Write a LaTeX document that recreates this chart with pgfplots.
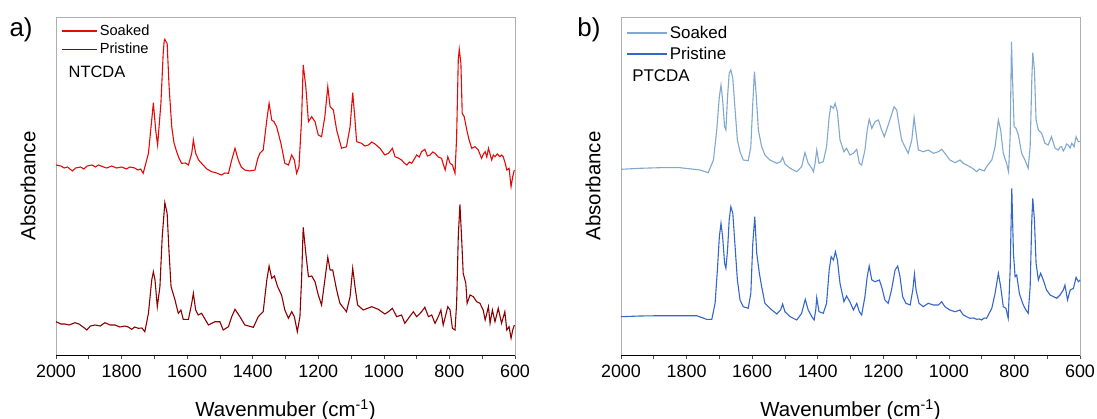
\documentclass[border=0pt]{standalone}
\usepackage{fontspec}
\setmainfont{Liberation Sans}
\usepackage{pgfplots}
\pgfplotsset{compat=1.18}
\definecolor{ntsoak}{RGB}{228,10,10}
\definecolor{ntprist}{RGB}{140,0,0}
\definecolor{ptsoak}{RGB}{128,168,208}
\definecolor{ptprist}{RGB}{52,102,204}
\definecolor{boxgray}{RGB}{175,175,175}

\pgfplotsset{
  spec/.style={
    scale only axis, width=459bp, height=338bp,
    x dir=reverse, xmin=600, xmax=2000, ymin=0, ymax=338,
    xtick={600,800,...,2000}, minor xtick={700,900,...,1900},
    ytick=\empty, xtick pos=bottom, tick align=outside,
    major tick length=4bp, minor tick length=4bp,
    every tick/.style={black!70, line width=0.6bp},
    axis line style={boxgray, line width=0.8bp},
    /pgf/number format/assume math mode=true,
    /pgf/number format/1000 sep={},
    xticklabel style={font=\fontsize{18}{18}\selectfont, yshift=-2bp},
    xlabel style={font=\fontsize{20.5}{20.5}\selectfont, at={([yshift=-55bp]axis description cs:0.5,0)}, anchor=center},
    ylabel style={font=\fontsize{20.5}{20.5}\selectfont, at={([xshift=-28bp]axis description cs:0,0.5)}, anchor=center},
    ylabel={Absorbance},
    clip=false,
    legend cell align=left,
  },
}

\begin{document}
\begin{tikzpicture}
\begin{axis}[spec,
  xlabel={Wavenmuber (cm\textsuperscript{-1})},
  legend style={at={([xshift=5bp,yshift=-6bp]axis description cs:0,1)}, anchor=north west, draw=none, fill=none, inner sep=0pt, font=\fontsize{14.7}{15}\selectfont, row sep=2bp},
  legend image code/.code={\draw[#1, line width=1.6bp] (0bp,0bp) -- (35bp,0bp);},
]
\addplot[ntsoak, line width=1.1bp] coordinates {
(2000,190)(1985,189)(1975,187)(1965,188)(1950,184)(1940,187)(1925,188)(1915,186)(1905,189)(1890,190)(1880,188)(1870,190)(1855,188)
(1845,187)(1830,189)(1815,187)(1800,188)(1785,186)(1775,188)(1760,187)(1750,185)(1742,186)(1734,181.7)
(1718,201.7)(1708,235)(1703,252.3)(1696,225)(1690,210)(1680,251.7)(1673,301.7)(1670,314)(1668,315.7)(1664,313)(1661,311.7)(1655,268.3)(1647,228.3)
(1640,212)(1632,203.3)(1625,197)(1617,191.7)(1605,192)(1596,190)(1586,201.7)(1581,215)(1574,201.7)(1565,195)(1556,191.7)(1540,186)(1525,183.3)
(1510,182)(1495,180)(1485,182)(1474,181.7)(1464,195)
(1454,206.7)(1444,195)(1435,188)(1424,185)(1410,184)(1393,185)(1385,196)(1378,201.7)(1368,205)(1357,235)(1350,251.7)(1342,235)(1335,233.3)(1327,228.3)
(1314,211.7)(1302,191.7)(1291,190)(1281,200)(1273,195)(1266,181.7)(1259,188.3)(1251,235)(1246,290)(1238,268.3)(1230,233.3)
(1220,238.3)(1210,233.3)(1200,220)(1190,218.3)(1180,238.3)(1171,268.3)(1164,248.3)(1154,245)(1144,225)(1129,206.7)(1114,208.3)
(1103,228.3)(1095,262.3)(1088,235)(1083,213.3)(1068,211.7)(1058,209)(1047,210)(1037,213)(1027,211)(1012,206.7)(997,200)(986,201.7)(974,206.7)
(966,198.3)(956,197)(946,195)(938,192)(930,190)(922,193)(915,191.7)(907,196)(900,200)(892,198)(885,203.3)(875,205.7)(867,199)(859,200)(851,203)(844,201.7)(834,198)(824,196.7)(818,190)(813,185)(805,198.3)
(798,191.7)(791,190)(783,181.7)(778,218.3)(773,295)(770,305.7)(765,291.7)(761,241.7)(755,238.3)(747,225)(740,215)(732,206.7)
(722,208.3)(712,205)(702,196.7)(696,201)(691,203.3)(686,198)(681,206.7)(671,195)(666,200)(661,198.3)(654,201)(646,198.3)(641,200)(636,198.3)(630,192)(625,185)(618,186.7)(612,168.3)
(607,178.3)(602,185)
};
\addlegendentry{Soaked}
\addplot[ntprist, line width=1.1bp] coordinates {
(2000,33.3)(1985,31)(1973,31.0)(1960,30)(1942,32.3)(1930,31)(1912,26.7)(1906,25.0)(1895,29)(1881,30.0)(1865,29)(1851,32.3)(1835,30)(1820,30.0)(1805,28)(1790,29.0)(1780,28)(1769,25.7)(1760,28)(1749,26.7)
(1738,27)(1729,23.3)(1718,41.7)(1708,75.0)(1703,83.3)(1698,75.0)(1691,48.3)(1683,68.3)(1676,118.3)(1668,152.3)(1661,141.7)(1655,101.7)
(1649,68.3)(1637,55.0)(1627,41.7)(1619,45.0)(1612,35.7)(1596,35.7)(1586,51.7)(1581,61.7)(1574,45.0)(1566,40.0)(1556,41.7)
(1535,30.0)(1515,33.3)(1500,33.3)(1490,25.0)(1474,28.3)(1464,38.3)(1454,45.7)(1439,38.3)(1424,30.0)(1398,27.7)(1383,38.3)
(1368,43.3)(1357,75.0)(1350,89.0)(1342,76.7)(1334,79.0)(1324,68.3)(1312,60.0)(1302,45.0)(1291,36.7)(1281,43.3)(1273,38.3)
(1264,23.3)(1256,38.3)(1251,75.0)(1246,127.7)(1238,101.7)(1230,78.3)(1220,79.0)(1210,73.3)(1200,60.0)(1190,50.0)(1180,75.0)
(1171,97.7)(1164,85.0)(1156,85.0)(1144,65.0)(1134,51.7)(1114,43.3)(1103,58.3)(1095,86.7)(1088,68.3)(1080,50.0)(1063,45.0)
(1037,48.3)(1017,45.7)(997,41.0)(986,43.3)(974,46.7)(961,38.3)(946,40.0)(936,31.7)(925,36.7)(910,43.3)(900,38.3)(885,43.3)
(875,47.7)(864,38.3)(854,40.0)(844,31.7)(834,38.3)(826,45.0)(819,30.0)(805,48.3)(798,45.0)(791,26.7)(783,25.0)(778,51.7)
(773,118.3)(768,150.7)(763,118.3)(758,81.7)(750,71.7)(746,51.7)(737,60.0)(727,58.3)(717,53.3)(707,51.7)(697,45.0)(691,35.0)
(681,48.3)(676,31.7)(669,45.0)(661,33.3)(651,46.7)(641,31.7)(631,43.3)(625,25.0)(618,28.3)(612,16.7)(607,25.0)(602,30.0)
};
\addlegendentry{Pristine}
\draw[black, line width=0.8bp] (rel axis cs:0,0) -- (rel axis cs:1,0);
\node[anchor=west, font=\fontsize{16.5}{17}\selectfont] at (axis description cs:0.02,0.837) {NTCDA};
\node[font=\fontsize{26}{26}\selectfont] at (axis description cs:-0.076,0.962) {a)};
\end{axis}

\begin{axis}[spec, xshift=565bp,
  xlabel={Wavenumber (cm\textsuperscript{-1})},
  legend style={at={([xshift=5bp,yshift=-7bp]axis description cs:0,1)}, anchor=north west, draw=none, fill=none, inner sep=0pt, font=\fontsize{17}{17}\selectfont, row sep=3bp},
  legend image code/.code={\draw[#1, line width=1.6bp] (0bp,0bp) -- (40bp,0bp);},
]
\addplot[ptsoak, line width=1.1bp] coordinates {
(2000,185.7)(1942,186.7)(1881,187.3)(1820,187.3)(1759,185)(1734,182.3)(1718,195)(1708,225)(1700,258.3)(1695,270)(1690,255)
(1684,228.3)(1680,225)(1675,258.3)(1670,281.7)(1665,285)(1659,276.7)(1652,245)(1645,215)(1637,203.3)(1627,195)(1612,194.3)
(1604,208.3)(1598,251.7)(1593,283.3)(1588,261.7)(1581,225)(1571,208.3)(1561,200)(1546,195)(1525,191.7)(1513,193.3)(1507,197.7)
(1500,191)(1484,186.7)(1464,183.3)(1449,188.3)(1439,202.3)(1429,191.7)(1418,186.7)(1413,183.3)(1408,191.7)(1403,205)(1396,191.7)
(1383,193.3)(1373,208.3)(1365,238.3)(1360,249)(1352,246.7)(1347,251.7)(1340,243.3)(1332,215)(1320,203.3)(1312,206.7)(1302,200)
(1291,201.7)(1281,205.7)(1273,191.7)(1266,190)(1256,205)(1249,225)(1243,235.7)(1235,226.7)(1225,233.3)(1215,235)(1205,225)
(1197,218.3)(1190,225)(1180,235)(1167,248.3)(1159,245)(1151,228.3)(1144,215)(1134,208.3)(1124,201.7)(1113,215)(1106,237.7)
(1100,221.7)(1093,205)(1078,203.3)(1063,205)(1047,201.7)(1032,203.3)(1022,205.7)(1012,201.7)(997,195)(981,192.3)(966,195)
(956,191.7)(936,188.3)(925,186)(915,183.3)(907,186)(900,185)(892,184)(885,188.3)(869,195)(859,208.3)(849,235)(842,225)(834,201.7)(824,191.7)(818,183.3)
(813,218.3)(809,313.3)(805,268.3)(801,228.3)(795,226.7)(788,220)(778,201.7)(768,195)(758,186.7)(752,208.3)(747,275)(744,302.3)
(739,285)(734,235)(727,225)(717,221.7)(707,211.7)(697,210)(687,218.3)(676,206.7)(666,205)(661,208)(656,208.3)(651,204)(646,206.7)(641,211)(636,210)
(630,207)(625,211.7)(618,208.3)(612,218.3)(605,213.3)(600,213.3)
};
\addlegendentry{Soaked}
\addplot[ptprist, line width=1.1bp] coordinates {
(2000,38.3)(1942,39)(1881,39.3)(1820,39.3)(1769,39.3)(1739,35.7)(1723,35.7)(1713,51.7)(1706,85)(1700,118.3)(1695,131.7)
(1690,118.3)(1684,91.7)(1680,86.7)(1675,105)(1670,135)(1665,148.3)(1659,141.7)(1652,108.3)(1645,75)(1637,55)(1627,48.3)
(1612,46.7)(1604,61.7)(1598,111.7)(1592,138.3)(1586,101.7)(1578,81.7)(1571,68.3)(1561,51.7)(1546,46.7)(1525,41)(1513,45)
(1507,51)(1500,43.3)(1484,38.3)(1464,35)(1449,41.7)(1438,55.7)(1429,45)(1418,38.3)(1411,35)(1406,45)(1403,57.3)(1396,43.3)
(1383,41.7)(1373,51.7)(1365,85)(1359,98.3)(1352,95)(1346,103.3)(1340,95)(1332,71.7)(1320,53.3)(1312,59)(1302,53.3)(1291,45)
(1281,51.7)(1273,43.3)(1266,40)(1256,58.3)(1249,78.3)(1243,89)(1235,75)(1225,73.3)(1212,75)(1205,68.3)(1195,55)(1185,51.7)
(1175,65)(1164,85)(1156,89)(1149,78.3)(1141,58.3)(1131,51.7)(1118,50)(1110,65)(1105,81)(1100,65)(1091,51.7)(1078,48.3)
(1063,51.7)(1047,50)(1032,50)(1022,53.3)(1012,48.3)(997,45)(981,43.3)(966,45)(956,40)(936,36.7)(925,37)(915,35.7)(907,36)(900,35)(892,37)(885,36.7)
(869,46.7)(859,61.7)(849,81.7)(842,68.3)(834,48.3)(826,46.7)(819,36.7)(813,85)(808,166.7)(803,101.7)(798,78.3)(793,80)
(785,61.7)(775,51.7)(768,46.7)(758,41.7)(752,68.3)(747,135)(744,156.7)(739,135)(734,91.7)(727,75)(720,81.7)(712,75)(702,65)
(691,60)(681,58.3)(671,56.7)(661,60)(651,65)(646,70)(638,55)(630,65)(620,66.7)(612,77.7)(605,73.3)(600,75)
};
\addlegendentry{Pristine}
\draw[black, line width=0.8bp] (rel axis cs:0,0) -- (rel axis cs:1,0);
\node[anchor=west, font=\fontsize{17}{17}\selectfont] at (axis description cs:0.017,0.825) {PTCDA};
\node[font=\fontsize{26}{26}\selectfont] at (axis description cs:-0.070,0.962) {b)};
\end{axis}
\pgfresetboundingbox
\useasboundingbox (-56bp,-64bp) rectangle (1041bp,355bp);
\end{tikzpicture}
\end{document}
